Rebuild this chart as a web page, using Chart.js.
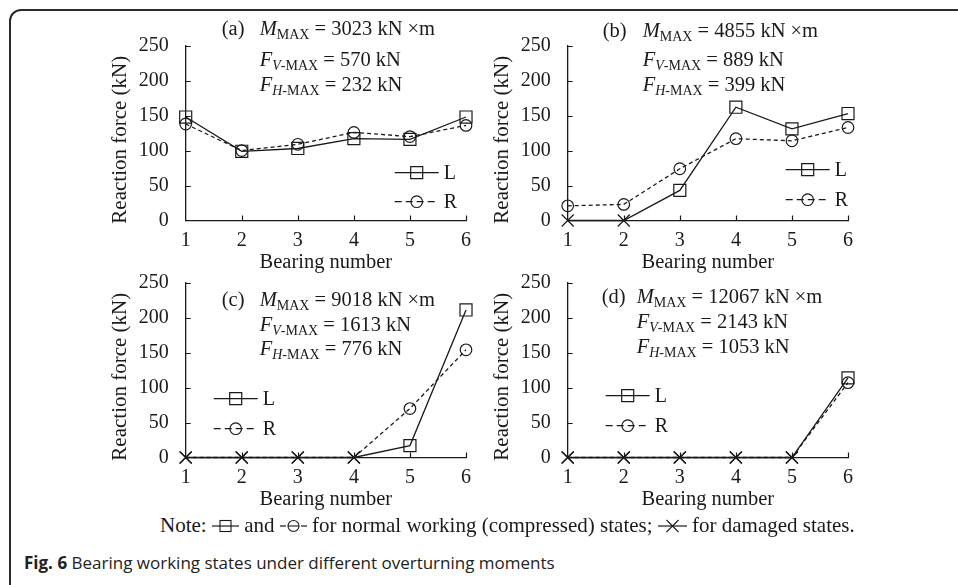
<!DOCTYPE html>
<html>
<head>
<meta charset="utf-8">
<script src="https://cdn.jsdelivr.net/npm/chart.js@4.4.0/dist/chart.umd.min.js"></script>
<style>
  body { margin: 0; width: 958px; height: 585px; overflow: hidden; position: relative; background: #fff;
         font-family: "Liberation Serif", "Times New Roman", serif; color: #1a1a1a; }
  .frame { position: absolute; left: 9px; top: 9px; width: 1000px; height: 700px;
           border: 2px solid #2b2b2b; border-radius: 12px; }
  canvas { position: absolute; }
  #note { position: absolute; left: 160px; top: 513px; font-size: 21px; white-space: nowrap; }
  #note svg { vertical-align: -1px; }
  #caption { position: absolute; left: 24px; top: 551px; font-family: "Open Sans", Roboto, sans-serif;
             font-size: 17px; white-space: nowrap; color: #222; }
  #caption b { font-weight: 700; }
</style>
</head>
<body>
<div class="frame"></div>
<canvas id="chartA" width="479" height="275" style="left:0px;top:0px"></canvas>
<canvas id="chartB" width="479" height="275" style="left:382px;top:0px"></canvas>
<canvas id="chartC" width="479" height="275" style="left:0px;top:237px"></canvas>
<canvas id="chartD" width="479" height="275" style="left:382px;top:237px"></canvas>

<div id="note">Note:
  <svg width="27" height="14"><line x1="0" y1="7" x2="27" y2="7" stroke="#1a1a1a" stroke-width="1.2"/><rect x="8" y="1.5" width="11" height="11" fill="none" stroke="#1a1a1a" stroke-width="1.1"/></svg>
  and
  <svg width="27" height="14"><line x1="0" y1="7" x2="6" y2="7" stroke="#1a1a1a" stroke-width="1.2"/><line x1="21" y1="7" x2="27" y2="7" stroke="#1a1a1a" stroke-width="1.2"/><line x1="8" y1="7" x2="19" y2="7" stroke="#1a1a1a" stroke-width="1.1"/><circle cx="13.5" cy="7" r="5.5" fill="none" stroke="#1a1a1a" stroke-width="1.1"/></svg>
  for normal working (compressed) states;
  <svg width="29" height="14"><line x1="0" y1="7" x2="29" y2="7" stroke="#1a1a1a" stroke-width="1.2"/><line x1="8.5" y1="1" x2="20.5" y2="13" stroke="#1a1a1a" stroke-width="1.1"/><line x1="8.5" y1="13" x2="20.5" y2="1" stroke="#1a1a1a" stroke-width="1.1"/></svg>
  for damaged states.</div>
<div id="caption"><b>Fig. 6</b> Bearing working states under different overturning moments</div>

<script>
// bearings on the x axis and y tick values
const bearings = ['1', '2', '3', '4', '5', '6'];
const yTicks = [0, 50, 100, 150, 200, 250];

// reaction force (kN) for left and right bearings
const forceA_L = [148, 99, 103, 117, 116, 148];
const forceA_R = [138, 100, 109, 126, 120, 136];
const forceB_L = [0, 0, 43, 162, 131, 153];
const forceB_R = [21, 23, 74, 117, 114, 133];
const forceC_L = [0, 0, 0, 0, 17, 211];
const forceC_R = [0, 0, 0, 0, 70, 154];
const forceD_L = [0, 0, 0, 0, 0, 114];
const forceD_R = [0, 0, 0, 0, 0, 107];

// 1 = damaged bearing (drawn as a cross)
const damagedA_L = [0, 0, 0, 0, 0, 0];
const damagedA_R = [0, 0, 0, 0, 0, 0];
const damagedB_L = [1, 1, 0, 0, 0, 0];
const damagedB_R = [0, 0, 0, 0, 0, 0];
const damagedC_L = [1, 1, 1, 1, 0, 0];
const damagedC_R = [1, 1, 1, 1, 0, 0];
const damagedD_L = [1, 1, 1, 1, 1, 0];
const damagedD_R = [1, 1, 1, 1, 1, 0];

// load case text
const caseTags = ['(a)', '(b)', '(c)', '(d)'];
const momentMax = [3023, 4855, 9018, 12067];
const fvMax = [570, 889, 1613, 2143];
const fhMax = [232, 399, 776, 1053];

const ink = '#1a1a1a';
const serif = '"Liberation Serif", "Times New Roman", serif';

// layout of each panel: text block and legend offsets relative to the chart area
const panels = [
  { id: 'chartA', L: forceA_L, R: forceA_R, dL: damagedA_L, dR: damagedA_R, tagX: 36, textX: 74, textY: [-11, 20, 45], legX: 209, legY: [127, 156] },
  { id: 'chartB', L: forceB_L, R: forceB_R, dL: damagedB_L, dR: damagedB_R, tagX: 35, textX: 75, textY: [-9, 20, 45], legX: 218, legY: [124, 154] },
  { id: 'chartC', L: forceC_L, R: forceC_R, dL: damagedC_L, dR: damagedC_R, tagX: 36, textX: 74, textY: [23, 48, 72], legX: 28, legY: [116, 146] },
  { id: 'chartD', L: forceD_L, R: forceD_R, dL: damagedD_L, dR: damagedD_R, tagX: 34, textX: 69, textY: [20, 45, 70], legX: 38, legY: [113, 143] }
];

function drawRuns(ctx, x, y, runs) {
  runs.forEach(r => {
    ctx.font = (r.it ? 'italic ' : '') + (r.sub ? 14 : 20.5) + 'px ' + serif;
    ctx.fillText(r.t, x, y + (r.sub ? 4 : 0));
    x += ctx.measureText(r.t).width;
  });
}

function legendRow(ctx, x, y, style, radius, dash, label) {
  ctx.save();
  ctx.strokeStyle = ink;
  ctx.lineWidth = 1.3;
  ctx.setLineDash(dash);
  ctx.beginPath();
  ctx.moveTo(x, y);
  ctx.lineTo(x + 44, y);
  ctx.stroke();
  ctx.setLineDash([]);
  ctx.fillStyle = 'rgba(0,0,0,0)';
  ctx.lineWidth = 1.2;
  Chart.helpers.drawPoint(ctx, { pointStyle: style, radius: radius, borderWidth: 1.2, rotation: 0 }, x + 22, y);
  ctx.fillStyle = ink;
  ctx.font = '20px ' + serif;
  ctx.textBaseline = 'middle';
  ctx.fillText(label, x + 49, y + 1);
  ctx.restore();
}

const decor = {
  id: 'decor',
  beforeDatasetsDraw(chart) {
    const { ctx, chartArea: ca, scales: { x, y } } = chart;
    ctx.save();
    ctx.strokeStyle = ink;
    ctx.lineWidth = 1.2;
    ctx.beginPath();
    yTicks.forEach(v => {
      if (v === 0) return;
      const py = Math.round(y.getPixelForValue(v)) + 0.5;
      ctx.moveTo(ca.left, py);
      ctx.lineTo(ca.left + 5, py);
    });
    bearings.forEach((b, i) => {
      if (i === 0) return;
      const px = Math.round(x.getPixelForValue(i)) + 0.5;
      ctx.moveTo(px, ca.bottom);
      ctx.lineTo(px, ca.bottom - 5);
    });
    ctx.stroke();
    // y axis title
    ctx.translate(ca.left - 65, ca.top + 94);
    ctx.rotate(-Math.PI / 2);
    ctx.fillStyle = ink;
    ctx.font = '21px ' + serif;
    ctx.textAlign = 'center';
    ctx.textBaseline = 'middle';
    ctx.fillText('Reaction force (kN)', 0, 0);
    ctx.restore();
  },
  afterDraw(chart) {
    const { ctx, chartArea: ca } = chart;
    const k = chart.options.plugins.decor.index;
    const p = panels[k];
    ctx.save();
    ctx.fillStyle = ink;
    ctx.textBaseline = 'alphabetic';
    ctx.font = '20.5px ' + serif;
    ctx.fillText(caseTags[k], ca.left + p.tagX, ca.top + p.textY[0]);
    const x0 = ca.left + p.textX;
    drawRuns(ctx, x0, ca.top + p.textY[0], [
      { t: 'M', it: true }, { t: 'MAX', sub: true }, { t: ' = ' + momentMax[k] + ' kN \u00d7m' }]);
    drawRuns(ctx, x0, ca.top + p.textY[1], [
      { t: 'F', it: true }, { t: 'V', it: true, sub: true }, { t: '-MAX', sub: true }, { t: ' = ' + fvMax[k] + ' kN' }]);
    drawRuns(ctx, x0, ca.top + p.textY[2], [
      { t: 'F', it: true }, { t: 'H', it: true, sub: true }, { t: '-MAX', sub: true }, { t: ' = ' + fhMax[k] + ' kN' }]);
    ctx.restore();
    legendRow(ctx, ca.left + p.legX, ca.top + p.legY[0], 'rect', 8.5, [], 'L');
    legendRow(ctx, ca.left + p.legX, ca.top + p.legY[1], 'circle', 5.8, [7, 4], 'R');
  }
};

function series(label, values, damaged, dash) {
  const normal = label === 'L' ? 'rect' : 'circle';
  return {
    label: label,
    data: values,
    borderColor: ink,
    borderWidth: 1.3,
    borderDash: dash,
    pointStyle: damaged.map(d => d ? 'crossRot' : normal),
    pointRadius: damaged.map(d => d ? 8.5 : (label === 'L' ? 8.5 : 5.8)),
    pointBorderColor: ink,
    pointBackgroundColor: 'rgba(0,0,0,0)',
    pointBorderWidth: 1.2,
    tension: 0,
    fill: false,
    clip: false
  };
}

const tickFont = { family: serif, size: 20 };
const titleFont = { family: serif, size: 20.5 };

panels.forEach((p, k) => {
  new Chart(document.getElementById(p.id), {
    type: 'line',
    data: {
      labels: bearings,
      datasets: [series('L', p.L, p.dL, []), series('R', p.R, p.dR, [4, 3])]
    },
    options: {
      responsive: false,
      animation: false,
      devicePixelRatio: 1,
      layout: { padding: { left: 0, top: 45.7, right: 10.5, bottom: 0 } },
      plugins: { legend: { display: false }, tooltip: { enabled: false }, decor: { index: k } },
      scales: {
        x: {
          type: 'category',
          offset: false,
          grid: { display: false, drawTicks: false },
          border: { color: ink, width: 1.3 },
          ticks: { color: ink, font: tickFont, padding: 8, maxRotation: 0, autoSkip: false },
          title: { display: true, text: 'Bearing number', color: ink, font: titleFont, padding: { top: 0, bottom: 0 } },
          afterFit: s => { s.height = 54.5; }
        },
        y: {
          min: 0,
          max: 250,
          grid: { display: false, drawTicks: false },
          border: { color: ink, width: 1.3 },
          ticks: { color: ink, font: tickFont, padding: 17 },
          afterBuildTicks: s => { s.ticks = yTicks.map(v => ({ value: v })); },
          afterFit: s => { s.width = 185.7; }
        }
      }
    },
    plugins: [decor]
  });
});
</script>
</body>
</html>
